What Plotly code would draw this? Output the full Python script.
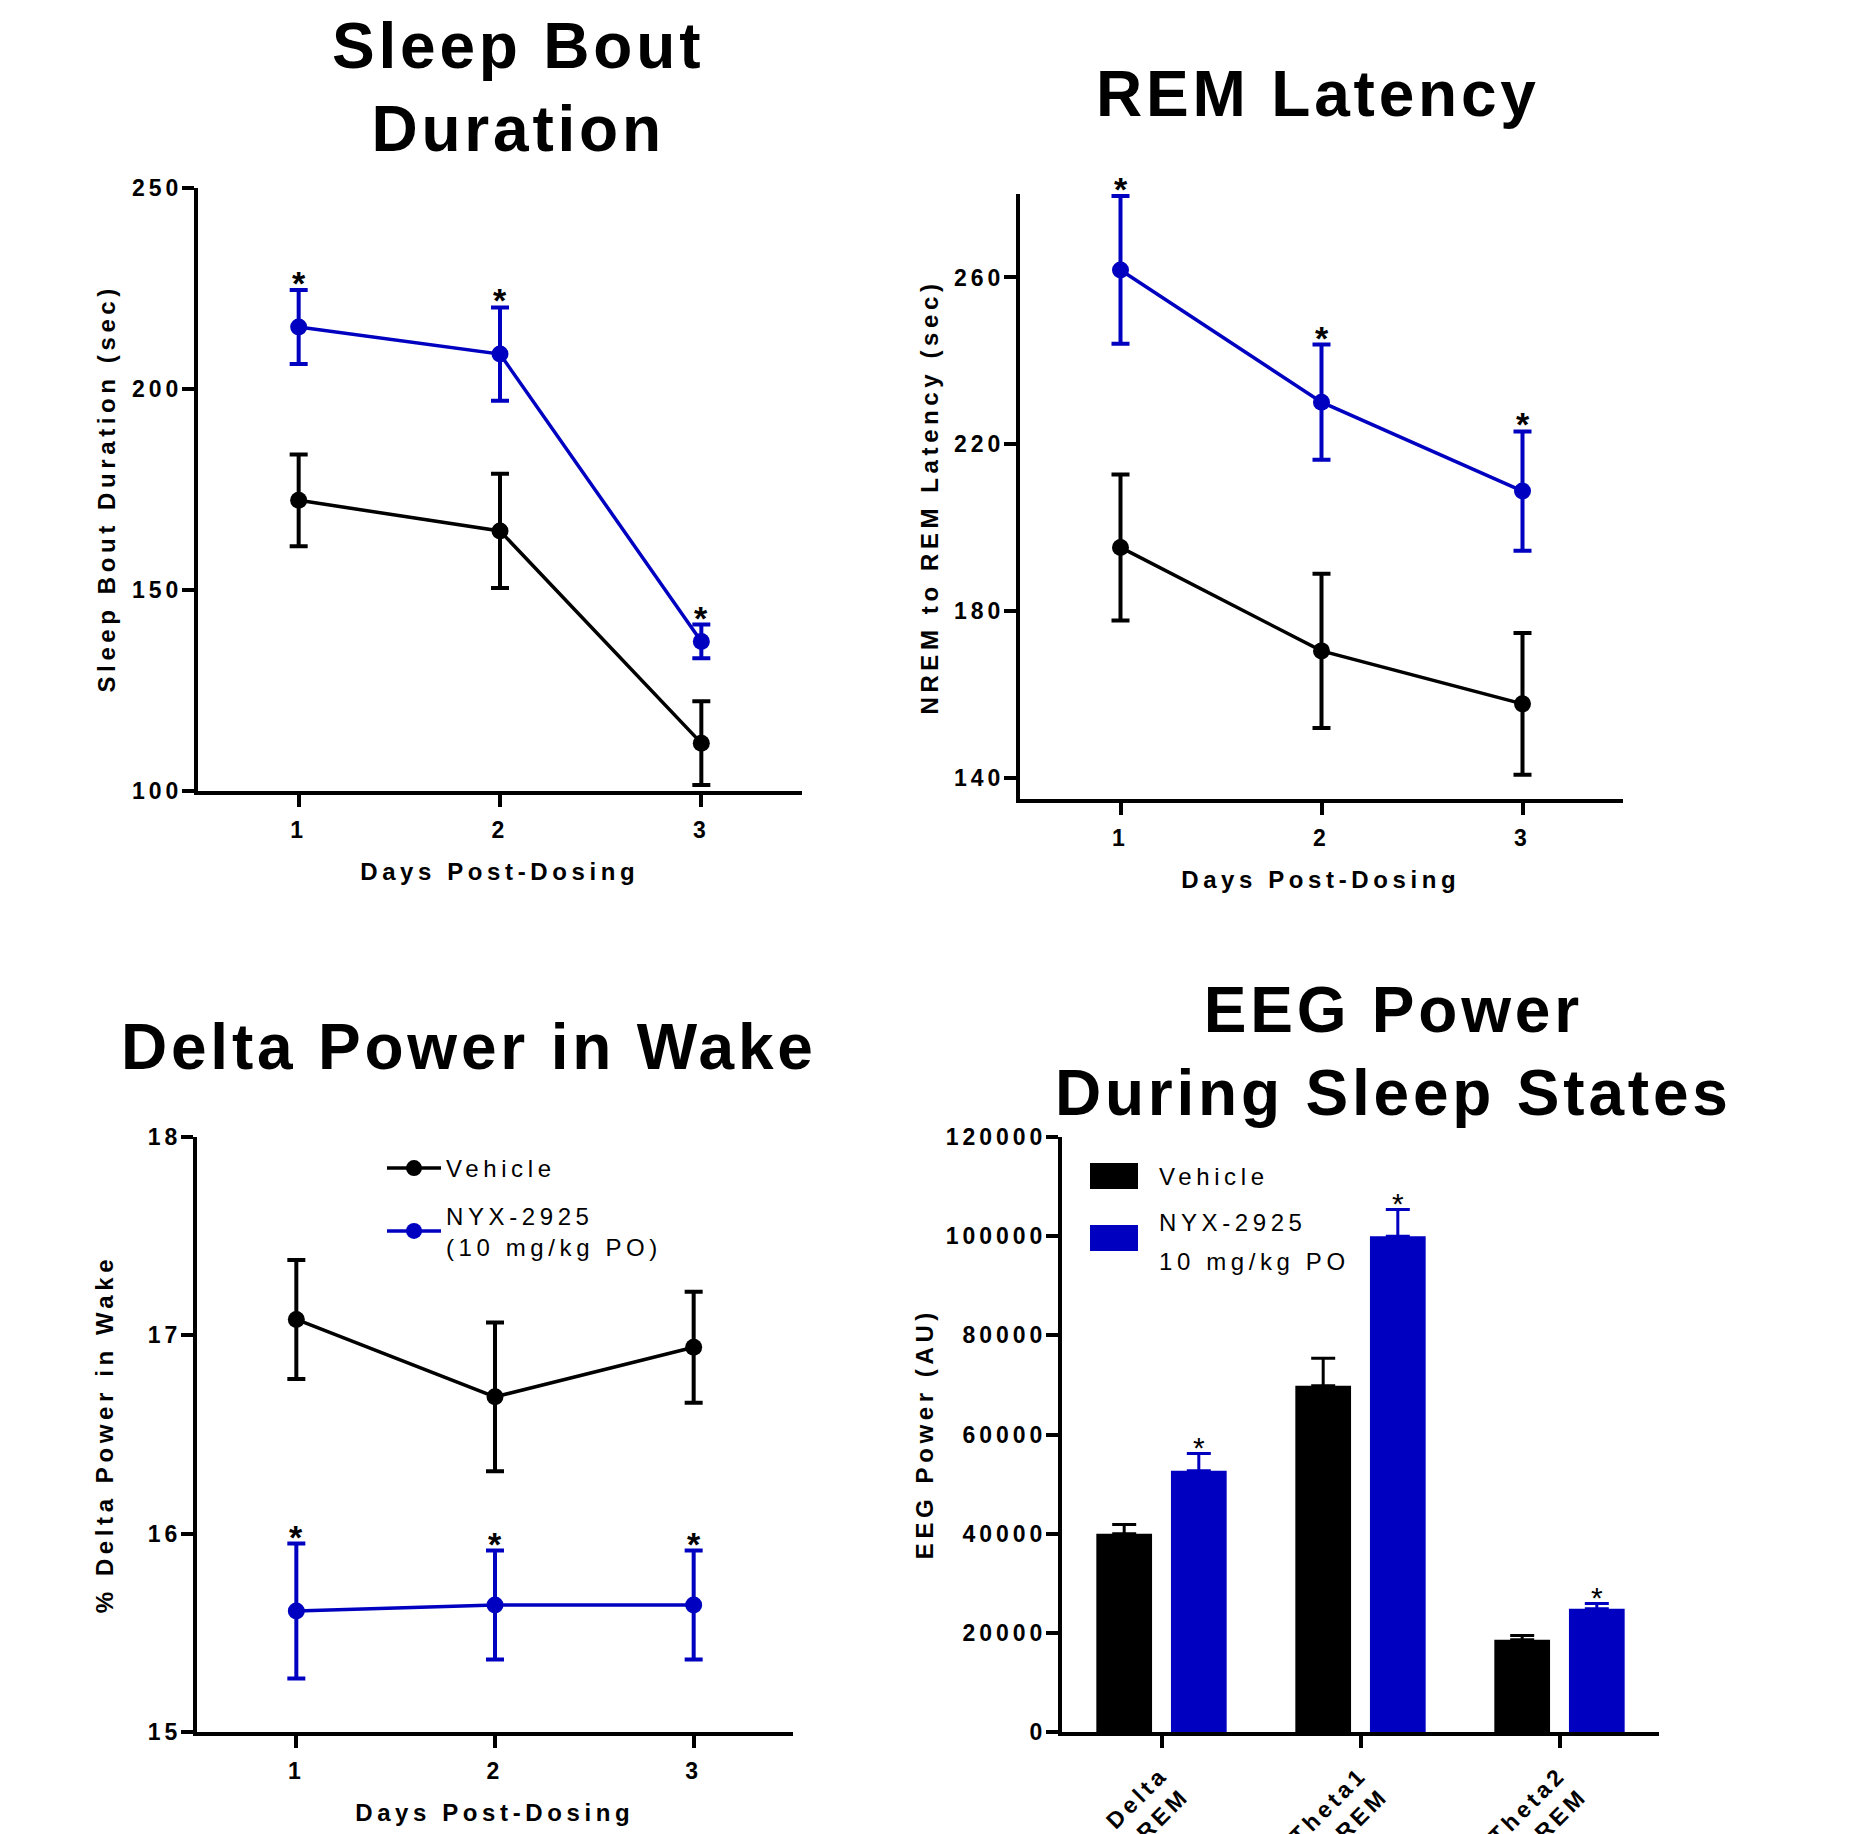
import plotly.graph_objects as go
import numpy as np

# ---------------- data ----------------
days = [1, 2, 3]

# Sleep Bout Duration (sec)
bout_vehicle = [172.3, 164.7, 111.9]
bout_vehicle_sem = [11.4, 14.2, 10.4]
bout_nyx = [215.4, 208.7, 137.2]
bout_nyx_sem = [9.2, 11.6, 4.2]

# NREM to REM latency (sec)
rem_vehicle = [195.3, 170.5, 157.8]
rem_vehicle_sem = [17.5, 18.5, 17.0]
rem_nyx = [261.8, 230.1, 208.8]
rem_nyx_sem = [17.7, 13.8, 14.3]

# % Delta power in wake
dpw_vehicle = [17.08, 16.69, 16.94]
dpw_vehicle_sem = [0.30, 0.375, 0.28]
dpw_nyx = [15.61, 15.64, 15.64]
dpw_nyx_sem = [0.34, 0.275, 0.275]

# EEG power during sleep states (AU)
eeg_bands = ["Delta<br>NREM", "Theta1<br>REM", "Theta2<br>REM"]
eeg_vehicle = [40000, 69850, 18600]
eeg_vehicle_sem = [1850, 5540, 850]
eeg_nyx = [52700, 100000, 24850]
eeg_nyx_sem = [3460, 5380, 1080]

vehicle_name = "Vehicle"
nyx_name_line = "NYX-2925<br>(10 mg/kg PO)"
nyx_name_bar = ["NYX-2925", "10 mg/kg PO"]

# ---------------- style ----------------
W, H = 1851, 1834
FONT = "Arial, 'Liberation Sans', sans-serif"
BLUE = "#0000C0"
BLACK = "#000000"


def fx(px):
    return px / W


def fy(py):
    return 1 - py / H


axis_style = dict(
    showline=True, linewidth=4, linecolor=BLACK,
    ticks="outside", ticklen=12, tickwidth=4, tickcolor=BLACK,
    showgrid=False, zeroline=False, automargin=False,
    tickfont=dict(family=FONT, size=23, color=BLACK, weight="bold"),
)

fig = go.Figure()


def line_pair(xa, ya, v, vs, n, ns, legend):
    fig.add_trace(go.Scatter(
        x=days, y=v, mode="lines+markers", name=vehicle_name, legendgroup="veh",
        line=dict(color=BLACK, width=3.5), marker=dict(color=BLACK, size=17),
        error_y=dict(type="data", array=vs, thickness=4, width=9, color=BLACK),
        xaxis=xa, yaxis=ya, showlegend=legend))
    fig.add_trace(go.Scatter(
        x=days, y=n, mode="lines+markers", name=nyx_name_line, legendgroup="nyx",
        line=dict(color=BLUE, width=3.5), marker=dict(color=BLUE, size=17),
        error_y=dict(type="data", array=ns, thickness=4, width=9, color=BLUE),
        xaxis=xa, yaxis=ya, showlegend=legend))


line_pair("x", "y", bout_vehicle, bout_vehicle_sem, bout_nyx, bout_nyx_sem, False)
line_pair("x2", "y2", rem_vehicle, rem_vehicle_sem, rem_nyx, rem_nyx_sem, False)
line_pair("x3", "y3", dpw_vehicle, dpw_vehicle_sem, dpw_nyx, dpw_nyx_sem, True)

band_idx = np.arange(len(eeg_bands))
BAR_W = 0.28
GAP = 0.095
fig.add_trace(go.Bar(
    x=band_idx, y=eeg_vehicle, width=BAR_W, offset=-(BAR_W + GAP / 2),
    marker=dict(color=BLACK, line=dict(width=0)), name=vehicle_name,
    error_y=dict(type="data", array=eeg_vehicle_sem, arrayminus=[0] * 3,
                 symmetric=False, thickness=3, width=12, color=BLACK),
    xaxis="x4", yaxis="y4", showlegend=False))
fig.add_trace(go.Bar(
    x=band_idx, y=eeg_nyx, width=BAR_W, offset=GAP / 2,
    marker=dict(color=BLUE, line=dict(width=0)), name=" ".join(nyx_name_bar),
    error_y=dict(type="data", array=eeg_nyx_sem, arrayminus=[0] * 3,
                 symmetric=False, thickness=3, width=12, color=BLUE),
    xaxis="x4", yaxis="y4", showlegend=False))

# ---------------- axes ----------------
XSO, YSO = 3, -5
fig.update_layout(
    xaxis=dict(domain=[fx(198), fx(802)], anchor="y", range=[0.5, 3.5],
               tickvals=days, ticklabelstandoff=XSO, **axis_style),
    yaxis=dict(domain=[fy(791), fy(188)], anchor="x", range=[100, 250],
               tick0=100, dtick=50, ticklabelstandoff=YSO, **axis_style),
    xaxis2=dict(domain=[fx(1020), fx(1623)], anchor="y2", range=[0.5, 3.5],
                tickvals=days, ticklabelstandoff=XSO, **axis_style),
    yaxis2=dict(domain=[fy(799), fy(194)], anchor="x2", range=[135, 280],
                tick0=140, dtick=40, ticklabelstandoff=YSO, **axis_style),
    xaxis3=dict(domain=[fx(197), fx(793)], anchor="y3", range=[0.5, 3.5],
                tickvals=days, ticklabelstandoff=XSO, **axis_style),
    yaxis3=dict(domain=[fy(1732), fy(1137)], anchor="x3", range=[15, 18],
                tick0=15, dtick=1, ticklabelstandoff=YSO, **axis_style),
    xaxis4=dict(domain=[fx(1062), fx(1659)], anchor="y4", range=[-0.5, 2.5],
                tickvals=band_idx, ticktext=eeg_bands, tickangle=-45,
                ticklabelstandoff=4, **axis_style),
    yaxis4=dict(domain=[fy(1732), fy(1137)], anchor="x4", range=[0, 120000],
                tick0=0, dtick=20000, tickformat="d", ticklabelstandoff=YSO,
                **axis_style),
)

# ---------------- annotations ----------------
ann = []
TITLE_FONT = dict(family=FONT, size=64, color=BLACK, weight="bold")
AX_FONT = dict(family=FONT, size=24, color=BLACK, weight="bold")


def paper_text(text, x, y, font, angle=0, xanchor="center", yanchor="middle", align="center"):
    ann.append(dict(text=text, x=fx(x), y=fy(y), xref="paper", yref="paper",
                    xanchor=xanchor, yanchor=yanchor, showarrow=False,
                    font=font, textangle=angle, align=align))


paper_text("Sleep Bout<br>Duration", 518, 87, TITLE_FONT)
paper_text("REM Latency", 1318, 94, TITLE_FONT)
paper_text("Delta Power in Wake", 469, 1047, TITLE_FONT)
paper_text("EEG Power<br>During Sleep States", 1393, 1051, TITLE_FONT)

paper_text("Sleep Bout Duration (sec)", 106, 489, AX_FONT, angle=-90)
paper_text("Days Post-Dosing", 499, 871, AX_FONT)
paper_text("NREM to REM Latency (sec)", 929, 497, AX_FONT, angle=-90)
paper_text("Days Post-Dosing", 1320, 879, AX_FONT)
paper_text("% Delta Power in Wake", 104, 1434, AX_FONT, angle=-90)
paper_text("Days Post-Dosing", 494, 1812, AX_FONT)
paper_text("EEG Power (AU)", 924, 1434, AX_FONT, angle=-90)

STAR_FONT = dict(family=FONT, size=34, color=BLACK, weight="bold")
for xa, ya, n, ns in [("x", "y", bout_nyx, bout_nyx_sem),
                      ("x2", "y2", rem_nyx, rem_nyx_sem),
                      ("x3", "y3", dpw_nyx, dpw_nyx_sem)]:
    for d, m, s in zip(days, n, ns):
        ann.append(dict(text="*", x=d, y=m + s, xref=xa, yref=ya, showarrow=False,
                        xanchor="center", yanchor="middle", yshift=7, font=STAR_FONT))

STAR_FONT4 = dict(family=FONT, size=30, color=BLACK)
for i, m, s in zip(band_idx, eeg_nyx, eeg_nyx_sem):
    ann.append(dict(text="*", x=i + GAP / 2 + BAR_W / 2, y=m + s, xref="x4", yref="y4",
                    showarrow=False, xanchor="center", yanchor="middle", yshift=6,
                    font=STAR_FONT4))

# manual legend for bar panel
LEG_FONT = dict(family=FONT, size=24, color=BLACK)
paper_text(vehicle_name, 1157, 1176, LEG_FONT, xanchor="left", align="left")
paper_text(nyx_name_bar[0], 1157, 1222, LEG_FONT, xanchor="left", align="left")
paper_text(nyx_name_bar[1], 1157, 1261, LEG_FONT, xanchor="left", align="left")
shapes = [
    dict(type="rect", xref="paper", yref="paper", x0=fx(1090), x1=fx(1138),
         y0=fy(1189), y1=fy(1163), fillcolor=BLACK, line=dict(width=0)),
    dict(type="rect", xref="paper", yref="paper", x0=fx(1090), x1=fx(1138),
         y0=fy(1251), y1=fy(1225), fillcolor=BLUE, line=dict(width=0)),
]

fig.update_layout(
    width=W, height=H, margin=dict(l=0, r=0, t=0, b=0, autoexpand=False),
    paper_bgcolor="white", plot_bgcolor="white",
    annotations=ann, shapes=shapes,
    legend=dict(x=fx(382), y=fy(1146), xanchor="left", yanchor="top",
                font=LEG_FONT, bgcolor="rgba(0,0,0,0)", borderwidth=0,
                itemwidth=54, tracegroupgap=13),
)

post = """
var css = 'text[style*="font-size: 64px"]{letter-spacing:3.8px}' +
          'text[style*="font-size: 24px"]{letter-spacing:4.6px}' +
          'text[style*="font-size: 23px"]{letter-spacing:4px}' +
          '.legend .scrollbox{clip-path:none !important}';
var st = document.createElement('style');
st.textContent = css;
document.head.appendChild(st);
"""

fig.write_html("out.html", post_script=post)
